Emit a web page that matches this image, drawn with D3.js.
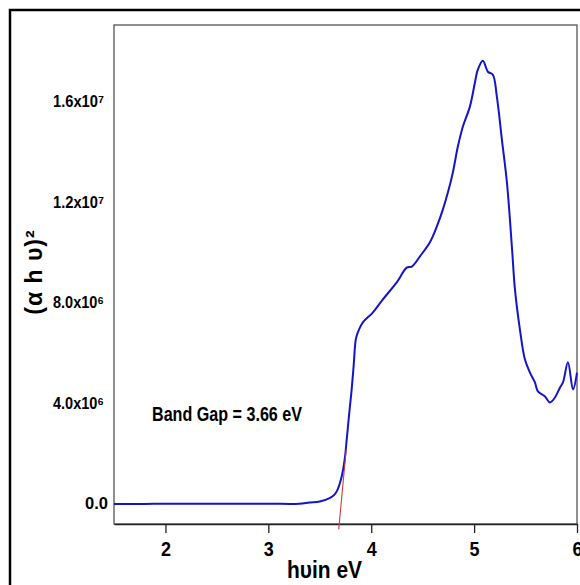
<!DOCTYPE html>
<html><head><meta charset="utf-8">
<script src="https://cdn.jsdelivr.net/npm/d3@7"></script>
<style>
body{margin:0;background:#fff;}
svg text{font-family:"Liberation Sans",Arial,sans-serif;font-weight:bold;fill:#000;}
</style></head>
<body><svg id="c" width="580" height="585"></svg>
<script>
// Curve: photon energy (eV) vs (alpha h nu)^2
const energy = [1.5,1.8,2.0,2.5,3.0,3.3,3.40,3.50,3.60,3.645,3.674,3.713,3.742,3.762,3.79,3.81,3.83,3.85,3.87,3.917,4.015,4.112,4.248,4.345,4.394,4.472,4.569,4.637,4.696,4.745,4.793,4.842,4.891,4.959,5.008,5.036,5.085,5.134,5.182,5.221,5.27,5.319,5.367,5.397,5.445,5.494,5.543,5.591,5.62,5.689,5.737,5.786,5.835,5.864,5.912,5.961,6.0];
const absorb = [-0.04e6,-0.04e6,-0.03e6,-0.03e6,-0.03e6,-0.03e6,0.02e6,0.06e6,0.2e6,0.34e6,0.54e6,1.05e6,1.73e6,2.53e6,3.72e6,4.52e6,5.51e6,6.51e6,6.79e6,7.18e6,7.58e6,8.10e6,8.78e6,9.37e6,9.41e6,9.81e6,10.37e6,11.0e6,11.68e6,12.36e6,13.15e6,14.19e6,14.99e6,15.78e6,16.74e6,17.25e6,17.61e6,17.17e6,17.05e6,16.18e6,14.47e6,12.76e6,10.21e6,8.50e6,6.91e6,5.71e6,5.19e6,4.80e6,4.44e6,4.24e6,4.0e6,4.2e6,4.6e6,4.8e6,5.6e6,4.52e6,5.19e6];
// Tangent (band-gap extrapolation) line
const tangentX = [3.684, 3.757];
const tangentY = [-1.05e6, 2.13e6];
const xTicks = [2,3,4,5,6];
const yTicks = [0, 4e6, 8e6, 12e6, 16e6];
const yTickLabels = ["0.0","4.0x10\u2076","8.0x10\u2076","1.2x10\u2077","1.6x10\u2077"];
const xTitle = "hυin eV";
const yTitle = "(α h υ)\u00B2";
const annotation = "Band Gap = 3.66 eV";

const svg = d3.select("#c");
const L=114, R=577, T=25, B=524;
const x = d3.scaleLinear().domain([1.5,6]).range([L,R]);
const y = d3.scaleLinear().domain([-0.838e6, 19.03e6]).range([B,T]);

// outer frame
svg.append("rect").attr("x",10).attr("y",10).attr("width",620).attr("height",620)
  .attr("fill","none").attr("stroke","#000").attr("stroke-width",2.5);

// plot box
svg.append("rect").attr("x",L).attr("y",T).attr("width",R-L).attr("height",B-T)
  .attr("fill","none").attr("stroke","#555").attr("stroke-width",1.3);

// x axis
const xa = svg.append("g").attr("transform",`translate(0,${B})`)
  .call(d3.axisBottom(x).tickValues(xTicks).tickSize(9).tickSizeOuter(0).tickFormat(d3.format("d")));
xa.select(".domain").attr("stroke","#222").attr("stroke-width",1.3);
xa.selectAll(".tick line").attr("stroke","#222").attr("stroke-width",1.3);
xa.selectAll(".tick text").attr("font-size",21).attr("y",17).attr("dy","0.71em")
  .attr("textLength",10).attr("lengthAdjust","spacingAndGlyphs")
  .style("font-family",'"Liberation Sans",Arial,sans-serif').style("font-weight","bold");

// y tick labels
const yl = svg.append("g");
yTicks.forEach((v,i)=>{
  const isZero = v === 0;
  yl.append("text").attr("x", isZero ? 108 : 104).attr("y",y(v)).attr("dy","0.36em")
    .attr("text-anchor","end").attr("font-size",17)
    .attr("textLength", isZero ? 23 : 51).attr("lengthAdjust","spacingAndGlyphs")
    .text(yTickLabels[i]);
});

// curve
const pts = energy.map((e,i)=>[e,absorb[i]]);
svg.append("path").datum(pts)
  .attr("d", d3.line().curve(d3.curveCatmullRom.alpha(0.5)).x(d=>x(d[0])).y(d=>y(d[1])))
  .attr("fill","none").attr("stroke","#1414c8").attr("stroke-width",2).attr("stroke-linejoin","round");

// tangent line
svg.append("line").attr("x1",x(tangentX[0])).attr("y1",y(tangentY[0]))
  .attr("x2",x(tangentX[1])).attr("y2",y(tangentY[1]))
  .attr("stroke","#d03a3a").attr("stroke-width",1.1);

// annotation
svg.append("text").attr("x",152).attr("y",421).attr("font-size",21)
  .attr("textLength",150).attr("lengthAdjust","spacingAndGlyphs")
  .text(annotation);

// x title
svg.append("text").attr("x",287).attr("y",578)
  .attr("font-size",23).attr("textLength",75).attr("lengthAdjust","spacingAndGlyphs").text(xTitle);

// y title
svg.append("text").attr("transform","translate(42,272) rotate(-90)")
  .attr("text-anchor","middle").attr("font-size",23).attr("letter-spacing","1")
  .style("font-family",'"Liberation Sans","Arial",sans-serif')
  .text(yTitle);
</script></body></html>
